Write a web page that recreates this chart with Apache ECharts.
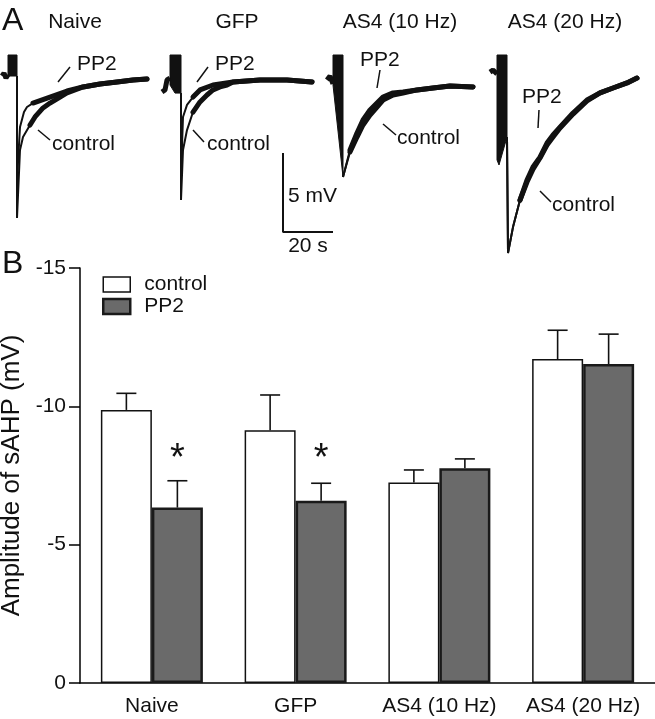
<!DOCTYPE html>
<html>
<head>
<meta charset="utf-8">
<script src="https://cdn.jsdelivr.net/npm/echarts@6/dist/echarts.min.js"></script>
<style>html,body{margin:0;padding:0;background:#fff}#c{width:655px;height:719px}</style>
</head>
<body>
<div id="c"></div>
<script>
// ---------- Panel B data ----------
const categories = ['Naive', 'GFP', 'AS4 (10 Hz)', 'AS4 (20 Hz)'];
const controlMean = [-9.87, -9.14, -7.25, -11.71];
const controlErr  = [0.60, 1.27, 0.45, 1.04];
const pp2Mean     = [-6.34, -6.59, -7.76, -11.53];
const pp2Err      = [0.97, 0.63, 0.34, 1.08];
const asteriskAt  = [[0, -8.35], [1, -8.35]];   // significance marks on PP2 bars
const yTicks = [-15, -10, -5, 0];

// ---------- Panel A traces: [time (s), membrane potential (mV)] ----------
const panelTitles = ['Naive', 'GFP', 'AS4 (10 Hz)', 'AS4 (20 Hz)'];
const naivePre   = [[0.8,-0.28],[1.6,-0.1],[2.4,-0.4],[3.2,-0.2]];
const naiveStim  = [[3.2,1.05],[6.8,1.05],[6.8,-0.28],[3.2,-0.28]];
const naiveCtrl  = [[6.8,-0.28],[6.8,-9.27],[8,-4.96],[9.2,-4.14],[12,-3.38],[14,-2.87],[17.2,-2.30],[20,-1.99],[24,-1.61],[26.8,-1.35],[30,-1.16],[33.2,-0.97],[40,-0.78],[46.8,-0.66],[53.2,-0.53],[58.8,-0.47]];
const naivePP2   = [[6.8,-0.28],[6.8,-6.86],[8,-3.51],[9.6,-2.56],[10.8,-2.24],[13.2,-1.99],[20,-1.61],[26.8,-1.23],[33.2,-0.97],[40,-0.78],[46.8,-0.66],[53.2,-0.53],[58.8,-0.47]];

const gfpPre     = [[0.8,-1.29],[2.0,-1.16],[2.8,-0.53],[4,-0.41]];
const gfpStim    = [[4,1.05],[8.4,1.05],[8.4,-1.36],[6,-1.36],[4,-0.85]];
const gfpCtrl    = [[8.4,-1.36],[8.4,-8.13],[9.2,-4.96],[10.8,-3.70],[13.2,-2.56],[16,-1.92],[18.8,-1.48],[21.2,-1.16],[24,-0.97],[26.8,-0.85],[29.2,-0.66],[40,-0.53],[50.8,-0.53],[60.8,-0.66]];
const gfpPP2     = [[8.4,-1.36],[8.4,-6.55],[9.2,-2.87],[10.8,-2.11],[13.2,-1.61],[16,-1.16],[21.2,-0.85],[29.2,-0.66],[40,-0.53],[50.8,-0.53],[60.8,-0.66]];

const as10Pre    = [[2.8,-0.53],[4,-0.28],[5.2,-0.78]];
const as10Stim   = [[5.2,1.05],[9.2,1.05],[9.2,-6.67],[5.2,-0.85]];
const as10Ctrl   = [[9.2,-6.67],[12,-5.09],[14.8,-4.14],[17.2,-3.38],[20,-2.75],[22.8,-2.24],[25.2,-1.80],[29.2,-1.48],[33.2,-1.35],[38.8,-1.16],[45.2,-1.04],[52,-0.91],[61.2,-0.97]];
const as10PP2    = [[9.2,-6.67],[12,-4.96],[14.8,-3.89],[17.2,-3.06],[20,-2.43],[22.8,-1.99],[25.2,-1.61],[29.2,-1.35],[33.2,-1.29],[38.8,-1.16],[45.2,-1.04],[52,-0.91],[61.2,-0.97]];

const as20Pre    = [[4,-0.03],[5.2,0.1],[6.8,-0.15]];
const as20Stim   = [[6.8,1.05],[10.8,1.05],[10.8,-4.14],[7.6,-5.91],[6.8,-5.59]];
const as20Ctrl   = [[10.8,-4.14],[11.2,-11.48],[13.2,-9.84],[16,-8.13],[18.8,-6.99],[21.2,-6.17],[24,-5.47],[26.8,-4.65],[29.2,-4.14],[32,-3.57],[37.2,-2.69],[42.8,-1.86],[48,-1.35],[53.2,-1.04],[58.8,-0.72],[62.8,-0.41]];
const as20PP2    = [[10.8,-4.14],[11.2,-11.48],[13.2,-9.84],[16,-8.13],[18.8,-6.86],[21.2,-6.04],[24,-5.41],[26.8,-4.52],[29.2,-4.01],[32,-3.51],[37.2,-2.62],[42.8,-1.80],[48,-1.35],[53.2,-1.04],[58.8,-0.72],[62.8,-0.41]];

// time from which the recording noise makes the trace a thick band
const noisyFrom = [12, 11, 12, 15];

// scale bar: 5 mV vertical, 20 s horizontal
const scaleBar = [[0,5],[0,0],[20,0]];

// ---------- build ----------
const FONT = '"Liberation Sans", Arial, Helvetica, sans-serif';
const chart = echarts.init(document.getElementById('c'), null, {renderer: 'canvas'});

const panels = [
  {pre: naivePre, stim: naiveStim, ctrl: naiveCtrl, pp2: naivePP2, left: 0},
  {pre: gfpPre, stim: gfpStim, ctrl: gfpCtrl, pp2: gfpPP2, left: 160},
  {pre: as10Pre, stim: as10Stim, ctrl: as10Ctrl, pp2: as10PP2, left: 320},
  {pre: as20Pre, stim: as20Stim, ctrl: as20Ctrl, pp2: as20PP2, left: 480}
];

const BARW = 51;
const grids = [{left: 80, right: 0, top: 268, bottom: 36, outerBoundsMode: 'none', containLabel: false}];
const xAxes = [{
  type: 'category', gridIndex: 0, data: categories,
  axisLine: {lineStyle: {color: '#000', width: 1.5}},
  axisTick: {show: false},
  axisLabel: {fontSize: 21, color: '#111', fontFamily: FONT, margin: 13, interval: 0, hideOverlap: false}
}];
const yAxes = [{
  type: 'value', gridIndex: 0, min: -15, max: 0, interval: 5, inverse: true,
  name: 'Amplitude of sAHP (mV)', nameLocation: 'middle', nameGap: 43, nameRotate: 90,
  nameTextStyle: {fontSize: 26, color: '#111', fontFamily: FONT},
  axisLine: {show: true, lineStyle: {color: '#000', width: 1.5}},
  axisTick: {show: true, length: 11, lineStyle: {color: '#000', width: 1.5}},
  axisLabel: {fontSize: 21, color: '#111', fontFamily: FONT, margin: 14},
  splitLine: {show: false}
}];
const series = [];

// trace panels
panels.forEach((p, i) => {
  const gi = i + 1;
  grids.push({left: p.left, top: 40, width: 175, height: 221.2, outerBoundsMode: 'none'});
  xAxes.push({type: 'value', gridIndex: gi, min: 0, max: 70, show: false});
  yAxes.push({type: 'value', gridIndex: gi, min: -12, max: 2, show: false});
  const lineBase = {type: 'line', xAxisIndex: gi, yAxisIndex: gi, showSymbol: false, symbol: 'none', silent: true,
    lineStyle: {color: '#111', width: 2}, z: 5, animation: false};
  const thick = {color: '#111', width: 5, join: 'round', cap: 'round'};
  series.push(Object.assign({}, lineBase, {name: 'pre' + i, data: p.pre, lineStyle: {color: '#111', width: 5}}));
  series.push(Object.assign({}, lineBase, {name: 'ctrlTrace' + i, data: p.ctrl}));
  series.push(Object.assign({}, lineBase, {name: 'pp2Trace' + i, data: p.pp2}));
  series.push(Object.assign({}, lineBase, {name: 'ctrlNoise' + i, data: p.ctrl.filter(d => d[0] >= noisyFrom[i]), lineStyle: thick}));
  series.push(Object.assign({}, lineBase, {name: 'pp2Noise' + i, data: p.pp2.filter(d => d[0] >= noisyFrom[i]), lineStyle: thick}));
  const stim = p.stim;
  series.push({
    type: 'custom', name: 'stim' + i, xAxisIndex: gi, yAxisIndex: gi, data: stim, silent: true, animation: false,
    encode: {x: 0, y: 1},
    renderItem: function (params, api) {
      if (params.dataIndex !== 0) return null;
      const pts = stim.map(pt => api.coord(pt));
      return {type: 'polygon', shape: {points: pts}, style: {fill: '#111', stroke: '#111', lineWidth: 1}};
    }
  });
});

// scale bar grid
grids.push({left: 283, top: 153, width: 50, height: 79, outerBoundsMode: 'none'});
xAxes.push({type: 'value', gridIndex: 5, min: 0, max: 20, show: false});
yAxes.push({type: 'value', gridIndex: 5, min: 0, max: 5, show: false});
series.push({type: 'line', name: 'scalebar', xAxisIndex: 5, yAxisIndex: 5, data: scaleBar, symbol: 'none',
  lineStyle: {color: '#111', width: 2}, silent: true, animation: false});

// bars
series.push({
  type: 'bar', name: 'control', xAxisIndex: 0, yAxisIndex: 0, data: controlMean,
  barWidth: BARW, barGap: '0%',
  itemStyle: {color: '#ffffff', borderColor: '#111', borderWidth: 1.5}, z: 2, animation: false
});
series.push({
  type: 'bar', name: 'PP2', xAxisIndex: 0, yAxisIndex: 0, data: pp2Mean,
  barWidth: BARW, barGap: '0%',
  itemStyle: {color: '#6a6a6a', borderColor: '#1a1a1a', borderWidth: 2.5}, z: 2, animation: false
});

function errSeries(name, mean, err, dx) {
  return {
    type: 'custom', name: name, xAxisIndex: 0, yAxisIndex: 0, z: 4, silent: true, animation: false,
    data: mean.map((m, i) => [i, m, err[i]]),
    encode: {x: 0, y: 1},
    renderItem: function (params, api) {
      const c = api.value(0), m = api.value(1), e = api.value(2);
      const b = api.coord([c, m]);
      const t = api.coord([c, m - e]);
      const x = b[0] + dx;
      const st = {stroke: '#111', lineWidth: 1.6};
      return {type: 'group', children: [
        {type: 'line', shape: {x1: x, y1: b[1], x2: x, y2: t[1]}, style: st},
        {type: 'line', shape: {x1: x - 10, y1: t[1], x2: x + 10, y2: t[1]}, style: st}
      ]};
    }
  };
}
series.push(errSeries('controlErr', controlMean, controlErr, -BARW / 2));
series.push(errSeries('pp2Err', pp2Mean, pp2Err, BARW / 2));

series.push({
  type: 'custom', name: 'asterisk', xAxisIndex: 0, yAxisIndex: 0, z: 4, silent: true, animation: false,
  data: asteriskAt, encode: {x: 0, y: 1},
  renderItem: function (params, api) {
    const p = api.coord([api.value(0), api.value(1)]);
    return {type: 'text', x: p[0] + BARW / 2, y: p[1] + 8,
      style: {text: '*', fill: '#111', font: '38px ' + FONT, align: 'center', verticalAlign: 'middle'}};
  }
});

// annotations
function txt(t, x, y, size, align) {
  return {type: 'text', x: x, y: y, silent: true,
    style: {text: t, fill: '#111', font: size + 'px ' + FONT, align: align || 'left', verticalAlign: 'middle'}};
}
function ln(x1, y1, x2, y2) {
  return {type: 'line', silent: true, shape: {x1, y1, x2, y2}, style: {stroke: '#111', lineWidth: 1.5}};
}
const graphics = [
  txt('A', 2, 21, 32), txt('B', 2, 264, 32),
  txt(panelTitles[0], 75, 22, 21, 'center'), txt(panelTitles[1], 237, 22, 21, 'center'),
  txt(panelTitles[2], 400, 22, 21, 'center'), txt(panelTitles[3], 565, 22, 21, 'center'),
  txt('PP2', 77, 64, 21), ln(58, 82, 70, 67), txt('control', 52, 144, 21), ln(38, 130, 50, 140),
  txt('PP2', 215, 64, 21), ln(197, 82, 208, 67), txt('control', 207, 144, 21), ln(193, 130, 204, 142),
  txt('PP2', 360, 60, 21), ln(380, 70, 377, 88), txt('control', 397, 138, 21), ln(383, 124, 396, 135),
  txt('PP2', 522, 97, 21), ln(539, 110, 538, 128), txt('control', 552, 205, 21), ln(540, 191, 551, 202),
  txt('5 mV', 288, 196, 21), txt('20 s', 308, 246, 21, 'center')
];

chart.setOption({
  backgroundColor: '#ffffff',
  animation: false,
  grid: grids,
  xAxis: xAxes,
  yAxis: yAxes,
  legend: {
    orient: 'vertical', left: 102, top: 274, padding: 0, itemGap: 1,
    itemWidth: 27, itemHeight: 15, icon: 'rect',
    textStyle: {fontSize: 21, color: '#111', fontFamily: FONT, padding: [0, 0, 0, 9]},
    data: [
      {name: 'control', itemStyle: {color: '#ffffff', borderColor: '#111', borderWidth: 1.5}},
      {name: 'PP2', itemStyle: {color: '#6a6a6a', borderColor: '#1a1a1a', borderWidth: 2.5}}
    ],
    selectedMode: false
  },
  series: series,
  graphic: graphics
});
</script>
</body>
</html>
